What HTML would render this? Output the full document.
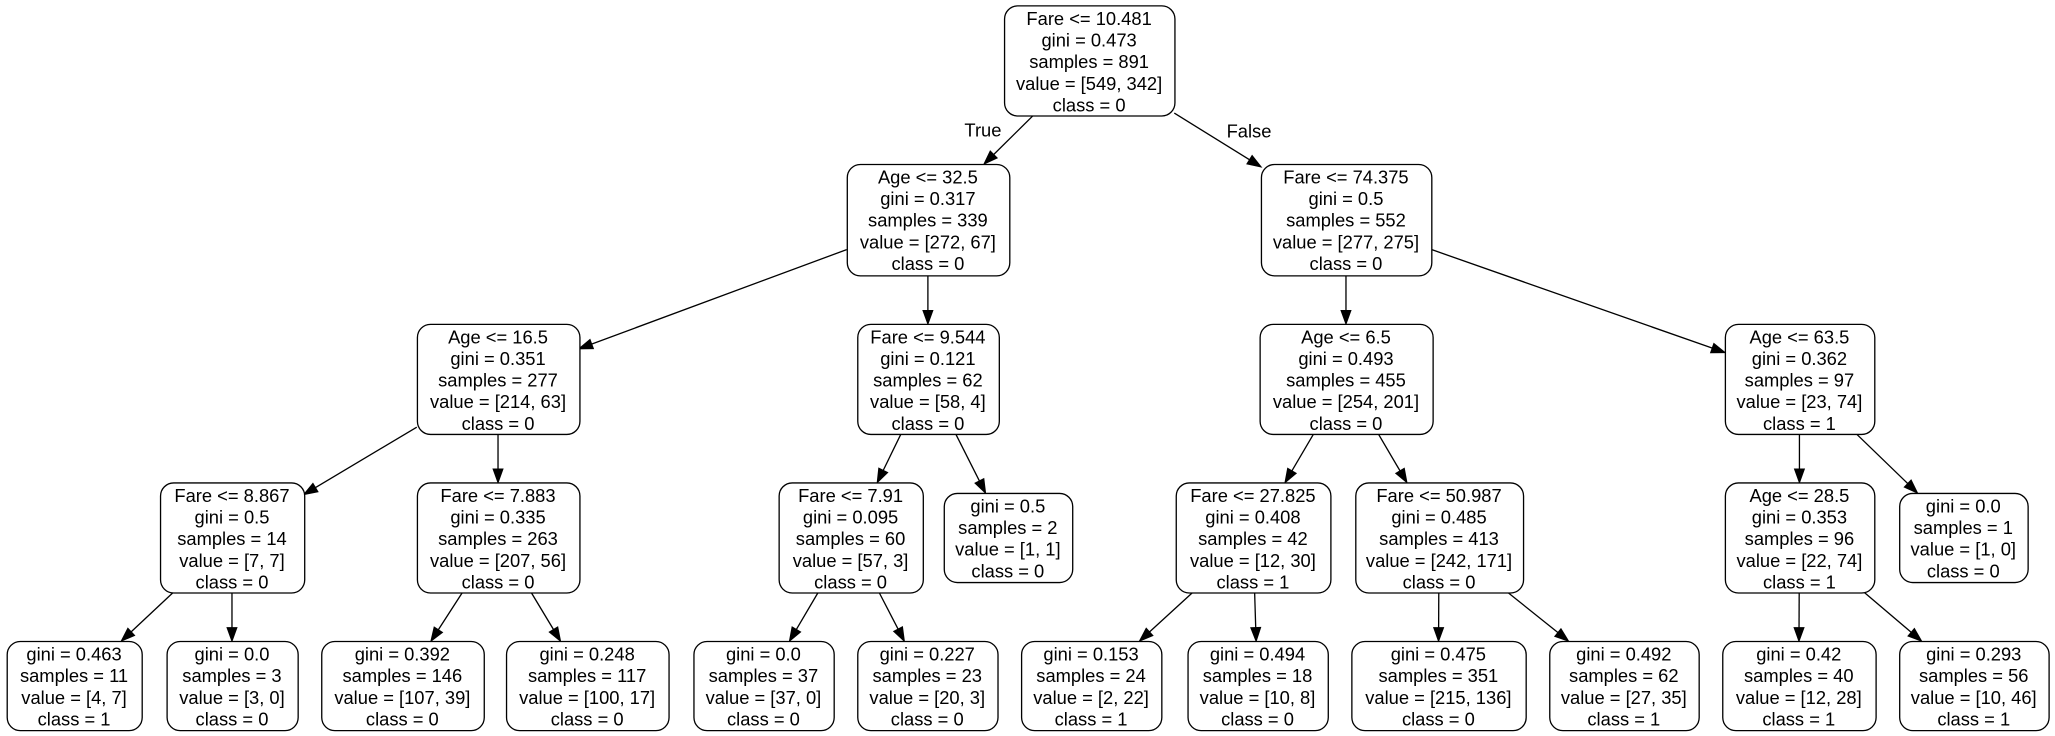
<!DOCTYPE html>
<html><head><meta charset="utf-8"><style>
html,body{margin:0;padding:0;background:#fff;}
svg{display:block;}
text{font-family:"Liberation Sans",Arial,sans-serif;font-size:14px;fill:#000;text-anchor:middle;}
</style></head><body>
<svg id="s" width="2055" height="736" viewBox="0 0 1568 561.6" preserveAspectRatio="none" xmlns="http://www.w3.org/2000/svg">
<rect x="0" y="0" width="1568" height="562" fill="#fff"/>
<g id="e" stroke="#000" stroke-width="1" fill="#000"></g>
<g id="n"></g>
<text x="750" y="104">True</text>
<text x="953" y="105">False</text>
</svg>
<script>
var N={
r:[766,4,896,88,["Fare <= 10.481","gini = 0.473","samples = 891","value = [549, 342]","class = 0"]],
A:[646,125,770,210,["Age <= 32.5","gini = 0.317","samples = 339","value = [272, 67]","class = 0"]],
B:[962,125,1092,210,["Fare <= 74.375","gini = 0.5","samples = 552","value = [277, 275]","class = 0"]],
C:[318,247,442,331,["Age <= 16.5","gini = 0.351","samples = 277","value = [214, 63]","class = 0"]],
D:[654,247,762,331,["Fare <= 9.544","gini = 0.121","samples = 62","value = [58, 4]","class = 0"]],
E:[961,247,1093,331,["Age <= 6.5","gini = 0.493","samples = 455","value = [254, 201]","class = 0"]],
F:[1316,247,1430,331,["Age <= 63.5","gini = 0.362","samples = 97","value = [23, 74]","class = 1"]],
G:[122,368,232,452,["Fare <= 8.867","gini = 0.5","samples = 14","value = [7, 7]","class = 0"]],
H:[318,368,442,452,["Fare <= 7.883","gini = 0.335","samples = 263","value = [207, 56]","class = 0"]],
I:[594,368,704,452,["Fare <= 7.91","gini = 0.095","samples = 60","value = [57, 3]","class = 0"]],
J:[720,376,818,444,["gini = 0.5","samples = 2","value = [1, 1]","class = 0"]],
K:[897,368,1015,452,["Fare <= 27.825","gini = 0.408","samples = 42","value = [12, 30]","class = 1"]],
L:[1034,368,1162,452,["Fare <= 50.987","gini = 0.485","samples = 413","value = [242, 171]","class = 0"]],
M:[1316,368,1430,452,["Age <= 28.5","gini = 0.353","samples = 96","value = [22, 74]","class = 1"]],
O:[1449,376,1547,444,["gini = 0.0","samples = 1","value = [1, 0]","class = 0"]],
l1:[5,489,108,557,["gini = 0.463","samples = 11","value = [4, 7]","class = 1"]],
l2:[127,489,227,557,["gini = 0.0","samples = 3","value = [3, 0]","class = 0"]],
l3:[245,489,369,557,["gini = 0.392","samples = 146","value = [107, 39]","class = 0"]],
l4:[386,489,510,557,["gini = 0.248","samples = 117","value = [100, 17]","class = 0"]],
l5:[529,489,636,557,["gini = 0.0","samples = 37","value = [37, 0]","class = 0"]],
l6:[654,489,761,557,["gini = 0.227","samples = 23","value = [20, 3]","class = 0"]],
l7:[779,489,886,557,["gini = 0.153","samples = 24","value = [2, 22]","class = 1"]],
l8:[906,489,1013,557,["gini = 0.494","samples = 18","value = [10, 8]","class = 0"]],
l9:[1031,489,1164,557,["gini = 0.475","samples = 351","value = [215, 136]","class = 0"]],
l10:[1182,489,1296,557,["gini = 0.492","samples = 62","value = [27, 35]","class = 1"]],
l11:[1314,489,1431,557,["gini = 0.42","samples = 40","value = [12, 28]","class = 1"]],
l12:[1449,489,1563,557,["gini = 0.293","samples = 56","value = [10, 46]","class = 1"]]
};
var E=[["r","A"],["r","B"],["A","C"],["A","D"],["B","E"],["B","F"],["C","G"],["C","H"],["D","I"],["D","J"],["E","K"],["E","L"],["F","M"],["F","O"],["G","l1"],["G","l2"],["H","l3"],["H","l4"],["I","l5"],["I","l6"],["K","l7"],["K","l8"],["L","l9"],["L","l10"],["M","l11"],["M","l12"]];
var ns="http://www.w3.org/2000/svg";
function el(t,a,p){var e=document.createElementNS(ns,t);for(var k in a)e.setAttribute(k,a[k]);p.appendChild(e);return e;}
var gn=document.getElementById("n"),ge=document.getElementById("e");
for(var k in N){var b=N[k];
 el("rect",{x:b[0]+.5,y:b[1]+.5,width:b[2]-b[0],height:b[3]-b[1],rx:10,ry:10,fill:"#fff",stroke:"#000","stroke-width":1},gn);
 var cx=(b[0]+b[2])/2;
 for(var i=0;i<b[4].length;i++){var t=el("text",{x:cx,y:b[1]+15+i*16.5},gn);t.textContent=b[4][i];}
}
function clip(b,cx,cy,dx,dy){ // find t where ray from center exits box
 var hw=(b[2]-b[0])/2,hh=(b[3]-b[1])/2;
 var tx=dx?hw/Math.abs(dx):1e9,ty=dy?hh/Math.abs(dy):1e9;var t=Math.min(tx,ty);
 return [cx+dx*t,cy+dy*t];}
E.forEach(function(p){var a=N[p[0]],b=N[p[1]];
 var ax=(a[0]+a[2])/2,ay=(a[1]+a[3])/2,bx=(b[0]+b[2])/2,by=(b[1]+b[3])/2;
 var dx=bx-ax,dy=by-ay;
 var s=clip(a,ax,ay,dx,dy),e=clip(b,bx,by,-dx,-dy);
 var L=Math.hypot(e[0]-s[0],e[1]-s[1]),ux=(e[0]-s[0])/L,uy=(e[1]-s[1])/L;
 var h=10,w=3.6,bxp=e[0]-ux*h,byp=e[1]-uy*h;
 el("line",{x1:s[0],y1:s[1],x2:bxp,y2:byp},ge);
 el("polygon",{points:e[0]+","+e[1]+" "+(bxp-uy*w)+","+(byp+ux*w)+" "+(bxp+uy*w)+","+(byp-ux*w)},ge);
});
</script>
</body></html>
